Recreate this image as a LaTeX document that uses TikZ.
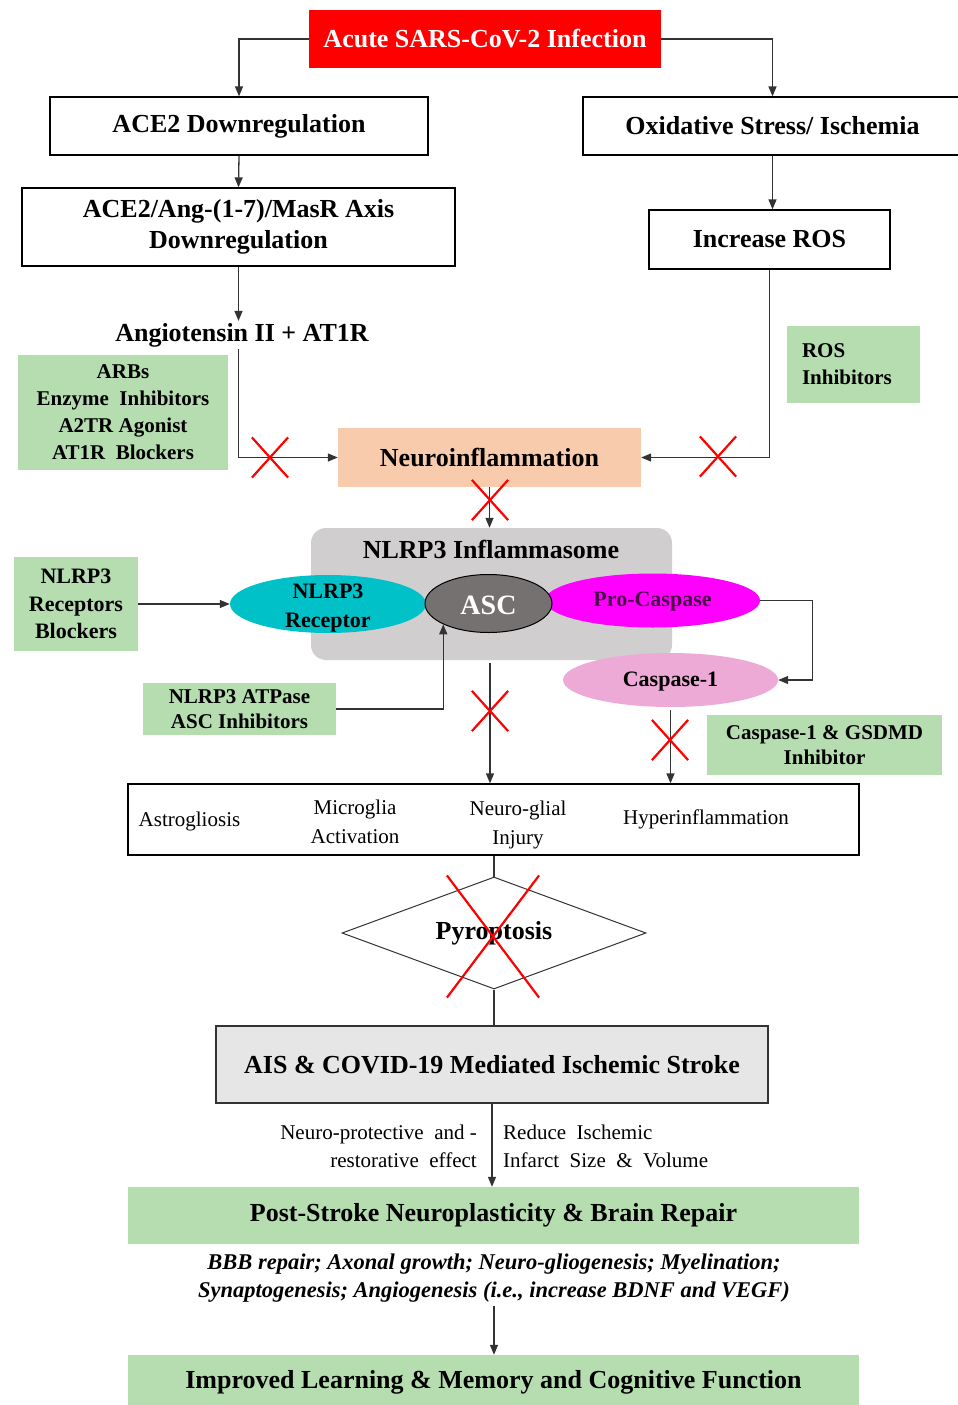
\documentclass[tikz,border=0pt]{standalone}
\usepackage{fontspec}
\setmainfont{Liberation Serif}
\usetikzlibrary{arrows.meta,shapes.geometric,shapes.misc,calc}

\definecolor{acutered}{HTML}{FF0000}
\definecolor{softgreen}{HTML}{B5DDB0}
\definecolor{peach}{HTML}{F8CBAD}
\definecolor{inflgray}{HTML}{D0CECE}
\definecolor{ascgray}{HTML}{767171}
\definecolor{receptorcyan}{HTML}{00C0C8}
\definecolor{procmagenta}{HTML}{FF00FF}
\definecolor{proctext}{HTML}{4A0A4A}
\definecolor{casppink}{HTML}{EEAAD6}
\definecolor{strokegray}{HTML}{E7E6E6}
\definecolor{linegray}{HTML}{333333}

\newcommand\ftitle{\fontsize{26}{31}\selectfont\bfseries}
\newcommand\fgreen{\fontsize{21}{27}\selectfont\bfseries}
\newcommand\fgreentight{\fontsize{21}{25}\selectfont\bfseries}
\newcommand\foval{\fontsize{22}{29}\selectfont\bfseries}
\newcommand\fplain{\fontsize{21}{29}\selectfont}
\newcommand\fnote{\fontsize{21}{28}\selectfont}
\newcommand\fital{\fontsize{22.5}{28}\selectfont\bfseries\itshape}

\begin{document}
\begin{tikzpicture}[x=1pt,y=-1pt,
  title/.style={inner sep=0,align=center,font=\ftitle},
  box/.style={title,draw=black,line width=1.3,fill=white},
  greenbox/.style={fill=softgreen,inner sep=0,align=center,font=\fgreen},
  oval/.style={ellipse,inner sep=0},
  link/.style={draw=linegray,line width=1.3},
  arr/.style={link,-{Triangle[length=10pt,width=8pt]}},
  blockx/.style={cross out,draw=red,line width=2.2,inner sep=0,minimum width=34,minimum height=38},
]
\useasboundingbox (0,0) rectangle (958,1405);

% --- top: infection and its two branches
\node[title,fill=acutered,text=white,minimum width=352,minimum height=58] (acute) at (485,39) {Acute SARS-CoV-2 Infection};
\node[box,minimum width=378,minimum height=58] (ace2) at (239,126) {ACE2 Downregulation};
\node[box,minimum width=379,minimum height=58] (ox) at (772.5,126) {Oxidative Stress/ Ischemia};
\node[box,minimum width=433,minimum height=78] (axis) at (238.5,227) {ACE2/Ang-(1-7)/MasR Axis\\Downregulation};
\node[box,minimum width=241,minimum height=59] (ros) at (769.5,239.5) {Increase ROS};
\node[title,inner sep=2] (ang) at (242,335) {Angiotensin II + AT1R};

% --- inhibitor boxes on the upper branches
\node[greenbox,minimum width=210,minimum height=115] (arbs) at (123,412.5)
  {ARBs\\Enzyme\ \ Inhibitors\\A2TR Agonist\\AT1R\ \ Blockers};
\node[greenbox,align=left,text width=103,inner xsep=15,minimum height=77] (rosinh) at (853.5,364.5)
  {ROS\\Inhibitors};

% --- neuroinflammation
\node[title,fill=peach,minimum width=303,minimum height=59] (neuro) at (489.5,457.5) {Neuroinflammation};

% --- inflammasome complex
\node[fill=inflgray,rounded corners=15,minimum width=361,minimum height=132,inner sep=0] (infl) at (491.5,594) {};
\node[title] (infltitle) at (491,549) {NLRP3 Inflammasome};
\node[oval,fill=receptorcyan,minimum width=196,minimum height=58] (rec) at (328,604) {};
\node[oval,fill=procmagenta,minimum width=215,minimum height=54] (pc) at (652.5,600.5) {};
\node[oval,fill=ascgray,draw=black,line width=1,minimum width=127,minimum height=58] (asc) at (488.5,603.5) {};
\node[oval,fill=casppink,minimum width=215,minimum height=54] (c1) at (670.5,680) {};
\node[font=\foval,align=center,inner sep=0] (rectext) at (328,608) {NLRP3\\Receptor};
\node[font=\fontsize{28}{30}\selectfont\bfseries,text=white,inner sep=0] (asctext) at (488.5,605) {ASC};
\node[font=\foval,text=proctext,inner sep=0] (pctext) at (652.5,602) {Pro-Caspase};
\node[font=\foval,inner sep=0] (c1text) at (670.5,682) {Caspase-1};

\node[greenbox,font=\fontsize{22}{27.5}\selectfont\bfseries,minimum width=124,minimum height=94] (nrb) at (76,604)
  {NLRP3\\Receptors\\Blockers};
\node[greenbox,font=\fgreentight,minimum width=193,minimum height=52] (atp) at (239.5,709)
  {NLRP3 ATPase\\ASC Inhibitors};
\node[greenbox,font=\fgreentight,minimum width=235,minimum height=60] (gsdmd) at (824.5,745)
  {Caspase-1 \& GSDMD\\Inhibitor};

% --- downstream effects
\node[draw=black,line width=1.3,minimum width=731,minimum height=71,inner sep=0] (fx) at (493.5,819.5) {};
\node[font=\fplain,inner sep=0] (astro) at (189.5,821) {Astrogliosis};
\node[font=\fplain,align=center,inner sep=0] (micro) at (355,821.5) {Microglia\\Activation};
\node[font=\fplain,align=center,inner sep=0] (injury) at (518,824.5) {Neuro-glial\\Injury};
\node[font=\fplain,inner sep=0] (hyper) at (706,819) {Hyperinflammation};

\node[diamond,aspect=2.714,draw=linegray,line width=1,minimum width=304,minimum height=112,inner sep=0,font=\ftitle] (pyro) at (494,933) {Pyroptosis};

\node[box,fill=strokegray,draw=linegray,minimum width=552,minimum height=77] (ais) at (492,1064.5)
  {AIS \& COVID-19 Mediated Ischemic Stroke};

\node[font=\fnote,align=right,anchor=east,inner sep=0] (protect) at (477,1146)
  {Neuro-protective\ \ and -\\restorative\ \ effect};
\node[font=\fnote,align=left,anchor=west,inner sep=0] (reduce) at (503,1146)
  {Reduce\ \ Ischemic\\Infarct\ \ Size\ \ \&\ \ Volume};

\node[title,fill=softgreen,minimum width=731,minimum height=57] (post) at (493.5,1215.5)
  {Post-Stroke Neuroplasticity \& Brain Repair};
\node[font=\fital,align=center,inner sep=1] (gains) at (494,1278)
  {BBB repair; Axonal growth; Neuro-gliogenesis; Myelination;\\Synaptogenesis; Angiogenesis (i.e., increase BDNF and VEGF)};
\node[title,fill=softgreen,minimum width=731,minimum height=55] (learn) at (493.5,1382.5)
  {Improved Learning \& Memory and Cognitive Function};

% --- connectors
\draw[arr] (acute.west) -| (ace2.north);
\draw[arr] (acute.east) -| (ox.north);
\draw[arr] (ace2.south) -- (axis.north);
\draw[arr] (ox.south) -- (ox.south |- ros.north);
\draw[arr] (axis.south) -- (axis.south |- ang.north);
\draw[arr] (axis.south |- ang.south) |- (neuro.west);
\draw[arr] (ros.south) |- (neuro.east);
\draw[arr] (neuro.south) -- (neuro.south |- infl.north);
\draw[arr] (nrb.east) -- (rec.west);
\draw[arr] (pc.east) -- ++(52,0) |- (c1.east);
\draw[arr] (atp.east) -| (asc.south west);
\draw[arr] ($(infl.south)+(-1.5,3)$) -- ($(infl.south |- fx.north)+(-1.5,0)$);
\draw[arr] ($(c1.south)+(0,3)$) -- (c1.south |- fx.north);
\draw[link] (fx.south -| pyro.north) -- (pyro.north);
\draw[link] (pyro.south) -- (pyro.south |- ais.north);
\draw[arr] (ais.south) -- (ais.south |- post.north);
\draw[arr] ($(gains.south)+(0,3)$) -- (gains.south |- learn.north);

% --- blocked steps
\node[blockx] (x1) at (270,457.5) {};
\node[blockx] (x2) at (718,456.5) {};
\node[blockx] (x3) at (490,500) {};
\node[blockx] (x4) at (490,711) {};
\node[blockx] (x5) at (670,740) {};
\node[cross out,draw=red,line width=2.2,inner sep=0,minimum width=90,minimum height=120] (x6) at (493,936.5) {};
\end{tikzpicture}
\end{document}
